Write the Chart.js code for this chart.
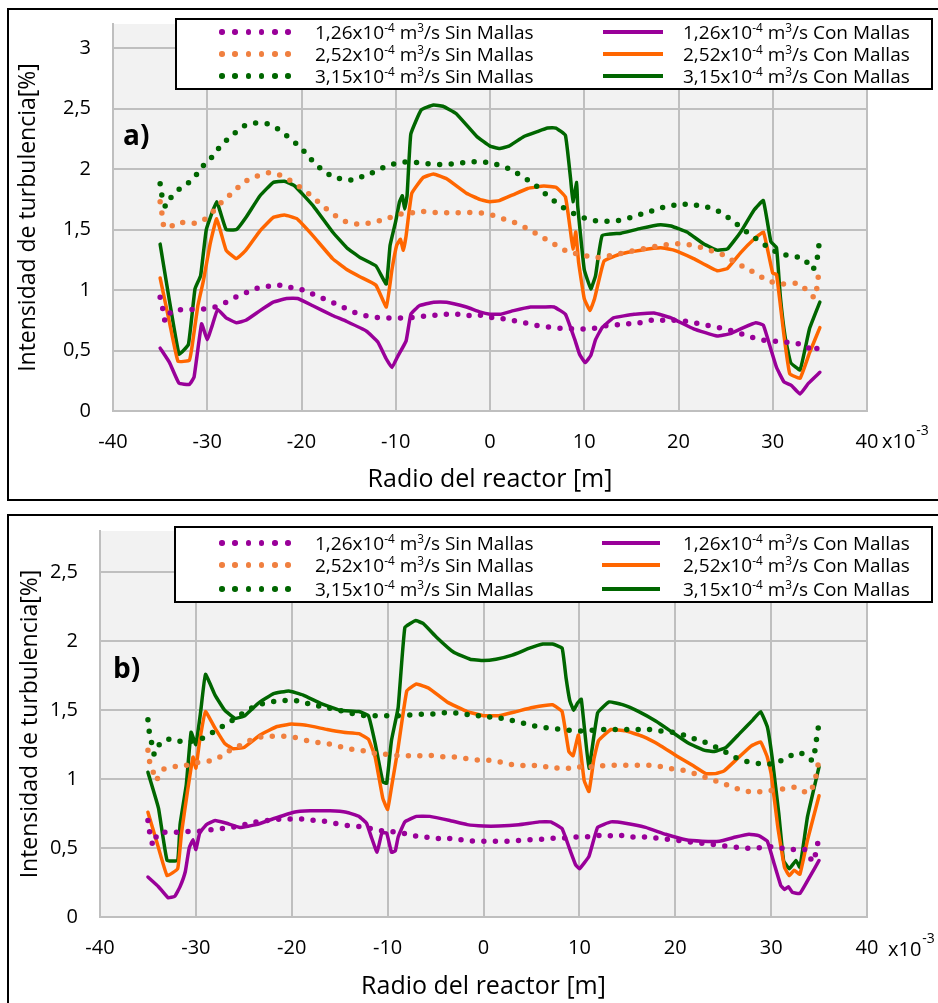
<!DOCTYPE html>
<html>
<head>
<meta charset="utf-8">
<script src="https://cdn.jsdelivr.net/npm/chart.js"></script>
<style>
  html, body { margin: 0; padding: 0; background: #fff; }
  body { width: 938px; height: 1003px; position: relative; overflow: hidden; font-family: "Open Sans", sans-serif; color: #000; }
  canvas { position: absolute; left: 0; }
  .panel { position: absolute; border: 2px solid #000; box-sizing: border-box; pointer-events: none; }
  .legend { position: absolute; border: 2px solid #000; box-sizing: border-box; background: #fff; }
  .dot { position: absolute; width: 5.5px; height: 5.5px; border-radius: 50%; }
  .bar { position: absolute; height: 4px; }
  .txt { position: absolute; white-space: nowrap; font-size: 19px; line-height: 22px; }
  sup { font-size: 0.62em; position: relative; top: -0.6em; vertical-align: baseline; line-height: 0; }
  .tag { position: absolute; font-weight: bold; font-size: 28px; line-height: 28px; }
</style>
</head>
<body>
<canvas id="chartA" width="938" height="500" style="top:0"></canvas>
<canvas id="chartB" width="938" height="503" style="top:500px"></canvas>
<div class="panel" style="left:7px; top:8px; width:940px; height:493px"></div>
<div class="panel" style="left:7px; top:514px; width:940px; height:500px"></div>
<div class="tag" style="left:123px; top:120px">a)</div>
<div class="tag" style="left:113px; top:653px">b)</div>
<script>
// caudales y estados de la leyenda
const flowRates = ["1,26", "2,52", "3,15"];
const meshStates = ["Sin Mallas", "Con Mallas"];
const sinColors = ["#990099", "#f08040", "#006600"];
const conColors = ["#990099", "#ff6600", "#006600"];

// ejes: radio en mm (x10^-3 m), intensidad en %
const xTicks = [-40, -30, -20, -10, 0, 10, 20, 30, 40];
const yTicksA = [0, 0.5, 1, 1.5, 2, 2.5, 3];
const yTicksB = [0, 0.5, 1, 1.5, 2, 2.5];

// ---- grafico a) ----
const aSinMallas126 = [[-35,0.94],[-34.7,0.84],[-34.4,0.74],[-33.8,0.82],[-32.4,0.84],[-31.1,0.84],[-29.7,0.85],[-28.5,0.88],[-27.3,0.93],[-26.1,0.97],[-24.9,1.01],[-23.7,1.03],[-22.4,1.04],[-21.1,1.02],[-19.8,1.00],[-18.6,0.96],[-17.4,0.92],[-16.2,0.88],[-15.1,0.84],[-13.8,0.80],[-12.6,0.78],[-11.3,0.77],[-10.0,0.77],[-8.7,0.77],[-7.4,0.78],[-6.1,0.79],[-4.8,0.80],[-3.5,0.80],[-2.2,0.79],[-0.9,0.79],[0.4,0.77],[1.7,0.76],[3.0,0.74],[4.2,0.72],[5.5,0.70],[6.8,0.69],[8.1,0.68],[9.3,0.68],[10.7,0.68],[11.9,0.70],[13.2,0.71],[14.6,0.72],[15.9,0.73],[17.1,0.75],[18.4,0.75],[19.8,0.75],[21.0,0.74],[22.3,0.72],[23.6,0.70],[24.9,0.68],[26.2,0.65],[27.4,0.62],[28.6,0.59],[29.9,0.58],[31.2,0.57],[32.5,0.56],[33.6,0.53],[34.5,0.49],[34.8,0.59]];
const aSinMallas252 = [[-35,1.73],[-34.8,1.63],[-34.6,1.53],[-34.2,1.51],[-33.1,1.56],[-31.9,1.55],[-30.6,1.57],[-29.5,1.64],[-28.7,1.71],[-27.7,1.78],[-26.7,1.85],[-25.7,1.91],[-24.4,1.95],[-23.2,1.97],[-22.0,1.94],[-20.9,1.89],[-19.8,1.83],[-18.8,1.77],[-17.8,1.70],[-16.8,1.64],[-15.7,1.58],[-14.5,1.55],[-13.1,1.55],[-11.9,1.57],[-10.6,1.60],[-9.4,1.63],[-8.2,1.64],[-6.7,1.65],[-5.5,1.64],[-4.3,1.64],[-2.9,1.64],[-1.6,1.64],[-0.2,1.63],[0.95,1.60],[2.2,1.57],[3.4,1.53],[4.6,1.48],[5.7,1.43],[6.8,1.38],[7.9,1.33],[9.2,1.30],[10.4,1.28],[11.7,1.27],[13.0,1.29],[14.3,1.31],[15.5,1.33],[16.9,1.35],[18.2,1.37],[19.4,1.38],[20.7,1.38],[22.0,1.36],[23.3,1.33],[24.5,1.30],[25.6,1.25],[26.7,1.20],[27.9,1.15],[29.0,1.10],[30.2,1.06],[31.4,1.05],[32.8,1.05],[33.7,0.99],[34.5,0.94],[34.7,1.04],[34.9,1.15]];
const aSinMallas315 = [[-35,1.88],[-34.8,1.78],[-34.4,1.69],[-34.0,1.75],[-33.2,1.82],[-32.1,1.88],[-31.2,1.95],[-30.4,2.03],[-29.5,2.10],[-28.7,2.18],[-27.8,2.25],[-26.7,2.32],[-25.7,2.37],[-24.3,2.38],[-23.1,2.36],[-22.0,2.30],[-21.0,2.24],[-20.0,2.17],[-19.1,2.09],[-18.2,2.02],[-17.2,1.96],[-15.9,1.92],[-14.7,1.91],[-13.5,1.94],[-12.2,1.98],[-11.1,2.02],[-9.8,2.05],[-8.5,2.06],[-7.3,2.05],[-5.9,2.04],[-4.6,2.04],[-3.3,2.05],[-2.0,2.06],[-0.8,2.06],[0.6,2.04],[1.8,2.01],[3.0,1.96],[4.0,1.91],[5.1,1.85],[6.1,1.78],[7.1,1.72],[8.2,1.66],[9.3,1.62],[10.6,1.58],[11.9,1.57],[13.1,1.57],[14.5,1.59],[15.7,1.62],[17.0,1.65],[18.2,1.68],[19.4,1.70],[20.7,1.71],[22.0,1.70],[23.3,1.68],[24.5,1.64],[25.6,1.58],[26.6,1.52],[27.6,1.46],[28.7,1.40],[29.8,1.34],[30.9,1.30],[32.2,1.28],[33.4,1.25],[34.1,1.17],[34.6,1.22],[34.8,1.32],[35.0,1.42]];
const aConMallas126 = [[-35,0.52],[-34,0.40],[-33,0.23],[-31.9,0.22],[-31.4,0.28],[-30.6,0.72],[-30.0,0.59],[-29.5,0.70],[-28.9,0.84],[-28.0,0.77],[-26.9,0.73],[-25.9,0.75],[-24.4,0.83],[-23.0,0.90],[-21.6,0.93],[-20.4,0.93],[-18.8,0.87],[-16.7,0.79],[-15.2,0.74],[-13.1,0.66],[-11.9,0.57],[-11.0,0.43],[-10.4,0.36],[-9.8,0.45],[-8.9,0.58],[-8.4,0.80],[-7.5,0.87],[-6.0,0.90],[-4.6,0.90],[-2.5,0.86],[-1.1,0.82],[0,0.80],[1.1,0.80],[2.5,0.83],[4.3,0.86],[5.7,0.86],[6.8,0.86],[8.0,0.80],[9.0,0.59],[9.5,0.47],[10.1,0.40],[10.7,0.46],[11.2,0.59],[11.9,0.69],[13.1,0.77],[15.3,0.80],[17.4,0.81],[19.2,0.77],[21.6,0.68],[24.1,0.62],[25.5,0.64],[26.9,0.69],[28.2,0.73],[29.0,0.71],[29.8,0.51],[30.4,0.36],[31.2,0.24],[32.0,0.21],[32.9,0.14],[33.8,0.23],[35.0,0.32]];
const aConMallas252 = [[-35,1.10],[-34,0.73],[-33.1,0.41],[-31.9,0.42],[-31.6,0.54],[-31.0,0.87],[-30.4,1.08],[-29.7,1.38],[-29.0,1.59],[-28.0,1.33],[-26.9,1.26],[-25.9,1.33],[-24.4,1.49],[-23.0,1.60],[-21.8,1.62],[-20.5,1.59],[-18.8,1.45],[-16.7,1.26],[-15.2,1.17],[-13.8,1.11],[-12.1,1.04],[-11.0,0.86],[-10.4,1.17],[-9.9,1.37],[-9.5,1.42],[-9.2,1.33],[-8.9,1.45],[-8.3,1.80],[-7.1,1.93],[-6.0,1.96],[-4.6,1.92],[-2.5,1.80],[-1.1,1.75],[0,1.73],[1.0,1.74],[2.5,1.79],[4.0,1.84],[5.7,1.86],[7.0,1.85],[8.0,1.77],[8.5,1.51],[8.8,1.34],[9.1,1.48],[9.4,1.23],[10.0,0.93],[10.6,0.83],[11.1,0.93],[12.1,1.24],[13.9,1.30],[16.0,1.33],[18.1,1.35],[19.5,1.33],[21.6,1.26],[24.1,1.16],[25.2,1.18],[26.6,1.31],[28.0,1.42],[29.0,1.48],[29.6,1.28],[30.0,1.14],[30.4,1.13],[31.2,0.62],[31.8,0.31],[32.9,0.27],[33.9,0.48],[35.0,0.69]];
const aConMallas315 = [[-35,1.38],[-33,0.47],[-32,0.55],[-31.3,1.01],[-30.7,1.12],[-30.1,1.50],[-29.0,1.73],[-28.0,1.50],[-26.9,1.50],[-25.9,1.60],[-24.4,1.78],[-23.0,1.89],[-21.8,1.90],[-20.7,1.86],[-18.8,1.70],[-16.7,1.48],[-15.2,1.35],[-13.8,1.27],[-12.1,1.20],[-11.0,1.05],[-10.6,1.37],[-10.0,1.57],[-9.6,1.73],[-9.3,1.78],[-9.05,1.67],[-8.8,1.78],[-8.4,2.29],[-7.3,2.49],[-6.0,2.53],[-5.0,2.52],[-3.6,2.46],[-1.4,2.27],[0,2.19],[1.0,2.17],[2.0,2.19],[3.6,2.27],[5.0,2.31],[6.1,2.34],[7.0,2.34],[8.0,2.28],[8.55,1.92],[8.8,1.73],[9.2,1.89],[9.3,1.70],[10.0,1.17],[10.7,1.01],[11.2,1.12],[11.9,1.45],[13.9,1.47],[16.0,1.51],[18.1,1.54],[19.2,1.53],[20.9,1.48],[22.7,1.38],[24.1,1.33],[25.2,1.34],[26.6,1.48],[28.0,1.66],[29.0,1.74],[29.8,1.40],[30.4,1.35],[30.8,0.95],[31.3,0.62],[31.9,0.40],[32.9,0.34],[33.9,0.68],[35.0,0.90]];

// ---- grafico b) ----
const bSinMallas126 = [[-35,0.70],[-34.8,0.61],[-34.4,0.52],[-33.9,0.61],[-32.6,0.61],[-31.3,0.62],[-30.0,0.62],[-28.8,0.63],[-27.5,0.64],[-26.3,0.65],[-25.0,0.67],[-23.7,0.69],[-22.5,0.70],[-21.2,0.71],[-19.9,0.71],[-18.7,0.71],[-17.5,0.70],[-16.2,0.69],[-14.9,0.67],[-13.6,0.66],[-12.3,0.65],[-11.1,0.63],[-9.8,0.62],[-8.5,0.61],[-7.3,0.59],[-6.0,0.58],[-4.8,0.57],[-3.5,0.57],[-2.2,0.56],[-0.9,0.55],[0.4,0.55],[1.7,0.55],[3.0,0.55],[4.2,0.56],[5.5,0.56],[6.8,0.57],[8.1,0.57],[9.3,0.58],[10.6,0.58],[11.9,0.59],[13.2,0.59],[14.5,0.59],[15.8,0.58],[17.0,0.58],[18.3,0.57],[19.6,0.56],[20.9,0.55],[22.1,0.54],[23.4,0.53],[24.6,0.52],[25.9,0.51],[27.2,0.50],[28.5,0.50],[29.7,0.51],[31.0,0.50],[32.3,0.49],[33.5,0.49],[34.4,0.40],[34.7,0.49],[35.0,0.57]];
const bSinMallas252 = [[-35,1.21],[-34.8,1.12],[-34.4,1.04],[-34.2,0.99],[-33.4,1.07],[-32.3,1.09],[-31.0,1.10],[-29.8,1.12],[-28.7,1.13],[-27.5,1.16],[-26.4,1.21],[-25.2,1.25],[-24.0,1.29],[-22.8,1.31],[-21.6,1.31],[-20.3,1.31],[-19.0,1.29],[-17.7,1.27],[-16.5,1.26],[-15.2,1.24],[-14.0,1.22],[-12.8,1.21],[-11.5,1.19],[-10.2,1.18],[-8.9,1.17],[-7.7,1.17],[-6.4,1.17],[-5.1,1.17],[-3.8,1.16],[-2.5,1.16],[-1.2,1.14],[0.1,1.14],[1.3,1.13],[2.6,1.11],[3.8,1.10],[5.1,1.10],[6.4,1.09],[7.7,1.08],[8.9,1.08],[10.3,1.09],[11.5,1.09],[12.8,1.10],[14.1,1.10],[15.4,1.10],[16.6,1.10],[17.9,1.10],[19.1,1.08],[20.4,1.07],[21.6,1.05],[22.8,1.02],[24.1,0.99],[25.3,0.96],[26.5,0.93],[27.7,0.91],[29.0,0.91],[30.2,0.92],[31.5,0.93],[32.7,0.94],[33.9,0.90],[34.5,0.98],[34.8,1.07],[35.0,1.15]];
const bSinMallas315 = [[-35,1.43],[-34.85,1.34],[-34.6,1.26],[-34.3,1.18],[-33.7,1.26],[-32.6,1.29],[-31.3,1.27],[-30.1,1.28],[-28.9,1.31],[-27.8,1.36],[-26.8,1.40],[-25.7,1.45],[-24.6,1.50],[-23.4,1.54],[-22.2,1.56],[-20.9,1.57],[-19.7,1.57],[-18.4,1.55],[-17.1,1.53],[-15.8,1.51],[-14.5,1.49],[-13.3,1.47],[-12.0,1.46],[-10.8,1.46],[-9.5,1.46],[-8.3,1.46],[-7.0,1.47],[-5.7,1.47],[-4.4,1.48],[-3.1,1.48],[-1.8,1.47],[-0.5,1.46],[0.8,1.45],[2.0,1.44],[3.3,1.42],[4.5,1.40],[5.7,1.38],[7.0,1.37],[8.3,1.36],[9.6,1.35],[10.8,1.35],[12.1,1.36],[13.5,1.36],[14.7,1.36],[16.0,1.36],[17.3,1.36],[18.5,1.35],[19.7,1.34],[20.9,1.32],[22.1,1.29],[23.4,1.26],[24.6,1.22],[25.7,1.18],[26.8,1.14],[28.1,1.12],[29.4,1.11],[30.6,1.12],[31.7,1.16],[33.0,1.19],[33.9,1.15],[34.4,1.14],[34.6,1.23],[34.8,1.32],[35.0,1.41]];
const bConMallas126 = [[-35,0.29],[-33.9,0.22],[-32.9,0.14],[-32.2,0.15],[-31.65,0.22],[-31.1,0.33],[-30.7,0.50],[-30.3,0.56],[-30.0,0.49],[-29.6,0.61],[-28.9,0.67],[-28.0,0.70],[-26.8,0.68],[-25.4,0.65],[-23.7,0.67],[-21.6,0.72],[-19.8,0.76],[-18.1,0.77],[-16.0,0.77],[-14.3,0.76],[-13.0,0.73],[-12.2,0.68],[-11.7,0.58],[-11.1,0.47],[-10.6,0.61],[-10.1,0.61],[-9.6,0.47],[-9.2,0.48],[-8.9,0.58],[-8.2,0.69],[-7.0,0.73],[-5.6,0.73],[-3.5,0.70],[-1.7,0.67],[0,0.66],[1.6,0.66],[3.7,0.67],[5.8,0.69],[7.0,0.69],[8.2,0.64],[9.0,0.49],[9.6,0.38],[10.0,0.35],[11.0,0.44],[11.9,0.65],[13.3,0.69],[14.8,0.68],[16.9,0.65],[19.0,0.60],[21.1,0.56],[22.8,0.55],[24.6,0.55],[26.3,0.58],[27.7,0.60],[28.7,0.59],[29.6,0.55],[30.3,0.39],[31.0,0.23],[31.4,0.20],[31.8,0.22],[32.2,0.18],[33.0,0.17],[34.1,0.30],[35.0,0.41]];
const bConMallas252 = [[-35,0.76],[-34.1,0.55],[-33,0.30],[-31.9,0.35],[-31.5,0.61],[-30.9,0.90],[-30.3,1.16],[-30.0,1.08],[-29.6,1.28],[-29.0,1.49],[-28.0,1.37],[-27.0,1.26],[-26.1,1.22],[-25.0,1.23],[-23.3,1.32],[-21.6,1.38],[-20.0,1.40],[-18.4,1.39],[-16.3,1.36],[-14.6,1.34],[-13.0,1.33],[-12.0,1.29],[-11.3,1.16],[-10.5,0.86],[-10.0,0.78],[-9.6,0.94],[-8.9,1.23],[-8.0,1.64],[-7.0,1.69],[-5.7,1.66],[-3.8,1.56],[-1.7,1.49],[0,1.46],[1.6,1.46],[3.4,1.49],[5.1,1.52],[7.2,1.54],[8.2,1.49],[8.9,1.20],[9.35,1.17],[9.9,1.32],[10.5,0.99],[11.0,0.91],[11.5,1.14],[12.0,1.28],[13.3,1.36],[14.8,1.35],[16.6,1.31],[18.3,1.25],[20.1,1.17],[21.8,1.10],[23.2,1.04],[24.2,1.04],[25.1,1.06],[26.5,1.15],[27.9,1.24],[28.9,1.27],[29.6,1.16],[30.0,1.04],[30.7,0.65],[31.4,0.36],[31.9,0.30],[32.4,0.34],[33.0,0.31],[33.8,0.56],[35.0,0.88]];
const bConMallas315 = [[-35,1.05],[-33.9,0.79],[-33,0.41],[-31.9,0.41],[-31.65,0.67],[-31.0,0.96],[-30.5,1.34],[-30.0,1.25],[-29.5,1.49],[-29.0,1.76],[-28.0,1.61],[-27.0,1.50],[-25.9,1.44],[-24.9,1.46],[-23.5,1.55],[-21.9,1.62],[-20.3,1.64],[-18.8,1.61],[-17.0,1.55],[-15.0,1.50],[-13.0,1.49],[-12.0,1.46],[-11.3,1.26],[-10.5,0.98],[-10.1,0.97],[-9.6,1.28],[-8.9,1.52],[-8.2,2.10],[-7.1,2.15],[-6.3,2.13],[-4.9,2.03],[-3.1,1.92],[-1.4,1.87],[0,1.86],[1.3,1.87],[3.0,1.90],[4.8,1.95],[6.2,1.98],[7.2,1.98],[8.2,1.95],[8.6,1.74],[9.0,1.57],[9.4,1.50],[9.8,1.55],[10.2,1.58],[11.0,1.08],[11.9,1.48],[13.1,1.56],[14.5,1.54],[16.2,1.49],[18.0,1.42],[19.7,1.34],[21.4,1.26],[23.0,1.21],[24.1,1.20],[25.3,1.23],[26.7,1.33],[28.1,1.43],[28.9,1.49],[29.6,1.38],[30.1,1.16],[30.8,0.75],[31.3,0.41],[31.9,0.35],[32.6,0.41],[33.0,0.36],[33.8,0.73],[35.0,1.09]];

const FONT = "'Open Sans', sans-serif";
const decimalComma = (v) => String(v).replace(".", ",");

// fondo gris del area de trazado
const plotBackground = {
  id: "plotBackground",
  beforeDraw(chart) {
    const { ctx, chartArea: a } = chart;
    ctx.save();
    ctx.fillStyle = "#f2f2f2";
    ctx.fillRect(a.left, a.top, a.right - a.left, a.bottom - a.top);
    ctx.restore();
  },
};

// "x10^-3" despues del ultimo tick del eje x
const exponentTag = {
  id: "exponentTag",
  afterDraw(chart, args, opts) {
    const xs = chart.scales.x;
    const ctx = chart.ctx;
    const x0 = xs.right + opts.dx;
    const y0 = xs.top + opts.dy;
    ctx.save();
    ctx.fillStyle = "#000";
    ctx.textBaseline = "middle";
    ctx.font = "20px " + FONT;
    ctx.fillText("x10", x0, y0);
    const w = ctx.measureText("x10").width;
    ctx.font = "14px " + FONT;
    ctx.fillText("-3", x0 + w + 1, y0 - 11);
    ctx.restore();
  },
};

function series(points, color, dotted) {
  return {
    data: points.map(([x, y]) => ({ x, y })),
    borderColor: color,
    borderWidth: dotted ? 5.5 : 3.5,
    borderDash: dotted ? [0, 11.5] : [],
    borderCapStyle: "round",
    borderJoinStyle: "round",
    tension: dotted ? 0.4 : 0.1,
    pointRadius: 0,
    fill: false,
  };
}

function makeChart(id, datasets, yMax, yTicks, box) {
  return new Chart(document.getElementById(id), {
    type: "line",
    data: { datasets },
    options: {
      responsive: false,
      animation: false,
      devicePixelRatio: 1,
      layout: { padding: { left: box.padLeft, right: 71, top: box.padTop, bottom: 0 } },
      plugins: {
        legend: { display: false },
        tooltip: { enabled: false },
        exponentTag: { dx: box.expDx, dy: box.expDy },
      },
      scales: {
        x: {
          type: "linear",
          min: -40,
          max: 40,
          afterBuildTicks: (s) => { s.ticks = xTicks.map((v) => ({ value: v })); },
          afterFit: (s) => { s.height = box.xHeight; s.paddingLeft = 0; s.paddingRight = 0; },
          grid: { color: "#bfbfbf", lineWidth: 2, drawTicks: false },
          border: { color: "#bfbfbf", width: 2 },
          ticks: { padding: 19, color: "#000", autoSkip: false, maxRotation: 0, font: { family: FONT, size: 20 }, callback: (v) => String(v) },
          title: { display: true, text: "Radio del reactor [m]", color: "#000", font: { family: FONT, size: 25 }, padding: { top: 0, bottom: box.xTitlePad } },
        },
        y: {
          min: 0,
          max: yMax,
          afterBuildTicks: (s) => { s.ticks = yTicks.map((v) => ({ value: v })); },
          afterFit: (s) => { s.width = 100; s.paddingTop = 0; s.paddingBottom = 0; },
          grid: { color: "#bfbfbf", lineWidth: 2, drawTicks: false },
          border: { color: "#bfbfbf", width: 2 },
          ticks: { padding: 22, color: "#000", font: { family: FONT, size: 20 }, callback: decimalComma },
          title: { display: true, text: "Intensidad de turbulencia[%]", color: "#000", font: { family: FONT, size: 23 }, padding: { top: box.yTitlePad, bottom: 0 } },
        },
      },
    },
    plugins: [plotBackground, exponentTag],
  });
}

function buildSeries(sinList, conList) {
  const sets = [];
  sinList.forEach((pts, i) => sets.push(series(pts, sinColors[i], true)));
  conList.forEach((pts, i) => sets.push(series(pts, conColors[i], false)));
  return sets;
}

function buildLegend(cfg) {
  const [l, t, w, h] = cfg.box;
  const box = document.createElement("div");
  box.className = "legend";
  Object.assign(box.style, { left: l + "px", top: t + "px", width: w + "px", height: h + "px" });
  document.body.appendChild(box);
  meshStates.forEach((state, c) => {
    const col = cfg.cols[c];
    flowRates.forEach((flow, r) => {
      const y = cfg.rows[r];
      const color = c === 0 ? sinColors[r] : conColors[r];
      if (c === 0) {
        for (let k = 0; k < 6; k++) {
          const d = document.createElement("div");
          d.className = "dot";
          Object.assign(d.style, { left: col.m + k * (col.w / 5) - 2.75 + "px", top: y - 2.75 + "px", background: color });
          document.body.appendChild(d);
        }
      } else {
        const b = document.createElement("div");
        b.className = "bar";
        Object.assign(b.style, { left: col.m + "px", top: y - 2 + "px", width: col.w + "px", background: color });
        document.body.appendChild(b);
      }
      const s = document.createElement("span");
      s.className = "txt";
      s.innerHTML = flow + "x10<sup>-4</sup> m<sup>3</sup>/s " + state;
      Object.assign(s.style, { left: col.t + "px", top: y - 11 + "px" });
      document.body.appendChild(s);
    });
  });
}

makeChart("chartA",
  buildSeries([aSinMallas126, aSinMallas252, aSinMallas315], [aConMallas126, aConMallas252, aConMallas315]),
  3.2, yTicksA,
  { padLeft: 13, padTop: 24, xHeight: 89, xTitlePad: 5, yTitlePad: 2, expDx: 15, expDy: 31 });

makeChart("chartB",
  buildSeries([bSinMallas126, bSinMallas252, bSinMallas315], [bConMallas126, bConMallas252, bConMallas315]),
  2.8, yTicksB,
  { padLeft: 0, padTop: 31, xHeight: 86, xTitlePad: 1, yTitlePad: 17, expDx: 21, expDy: 33 });

buildLegend({ box: [175, 18, 758, 72], rows: [32, 54, 76], cols: [{ m: 222, w: 66, t: 315 }, { m: 603, w: 60, t: 683 }] });
buildLegend({ box: [174, 526, 759, 77], rows: [543, 565, 589], cols: [{ m: 222, w: 66, t: 315 }, { m: 602, w: 58, t: 683 }] });
</script>
</body>
</html>
